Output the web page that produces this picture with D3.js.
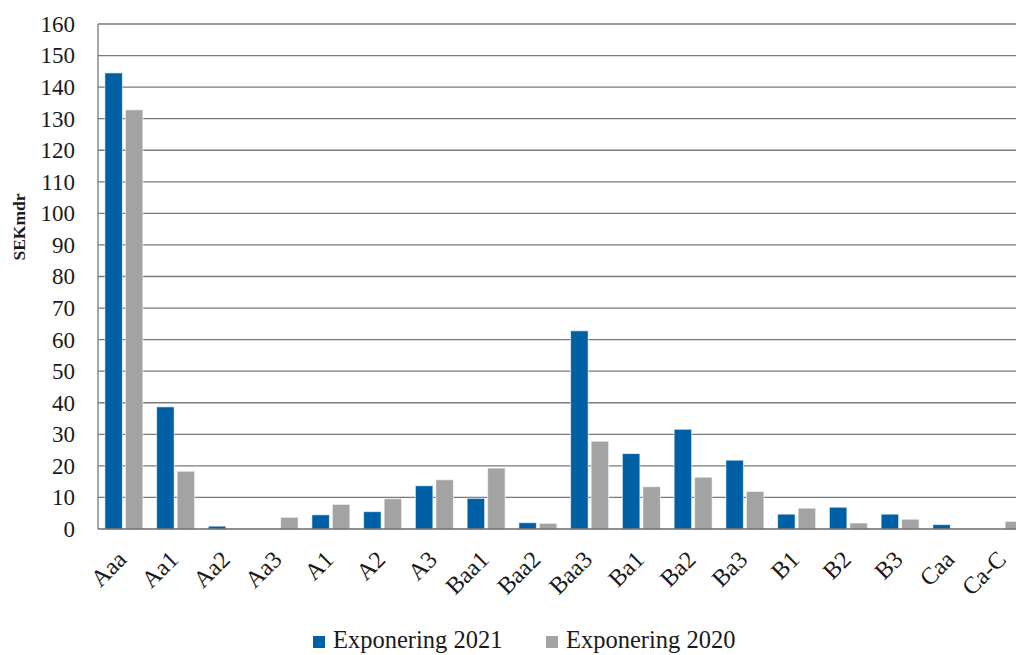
<!DOCTYPE html>
<html><head><meta charset="utf-8">
<script src="https://cdn.jsdelivr.net/npm/d3@7"></script>
<style>body{margin:0;background:#fff}svg{display:block}svg text{font-family:'Liberation Serif','DejaVu Serif',serif}</style>
</head><body>
<script>
const categories = ["Aaa","Aa1","Aa2","Aa3","A1","A2","A3","Baa1","Baa2","Baa3","Ba1","Ba2","Ba3","B1","B2","B3","Caa","Ca-C"];
const exp2021 = [144.5,38.7,0.9,0,4.5,5.5,13.7,9.7,2.0,62.8,23.9,31.6,21.8,4.7,6.9,4.7,1.4,0];
const exp2020 = [132.8,18.3,0,3.7,7.8,9.6,15.6,19.3,1.8,27.8,13.4,16.4,11.9,6.6,1.9,3.1,0,2.4];
const yTicks = [0,10,20,30,40,50,60,70,80,90,100,110,120,130,140,150,160];
const seriesNames = ["Exponering 2021","Exponering 2020"];
const colors = ["#0060A6","#A3A3A3"];

(function(){
const W = 1016, H = 655;
const pLeft = 98, pTop = 24, pBottom = 529, pRight = 98 + 18*51.75;
const svg = d3.select("body").append("svg").attr("width",W).attr("height",H);

const x = d3.scaleBand().domain(categories).range([pLeft,pRight]).paddingInner(0).paddingOuter(0);
const y = d3.scaleLinear().domain([0,160]).range([pBottom,pTop]);

// gridlines
svg.append("g").selectAll("line").data(yTicks.filter(d=>d>0)).join("line")
  .attr("x1",pLeft).attr("x2",pRight).attr("y1",d=>y(d)).attr("y2",d=>y(d))
  .attr("stroke","#7a7a7a").attr("stroke-width",1.3);

// bars
const bw = 17.5, gap = 3;
const inner = x.bandwidth();
const offs = (inner - (2*bw+gap))/2;
const series = [exp2021, exp2020];
series.forEach((vals,si)=>{
  svg.append("g").selectAll("rect").data(categories.map((c,i)=>({c,v:vals[i]})).filter(d=>d.v>0)).join("rect")
    .attr("x",d=>x(d.c)+offs+si*(bw+gap))
    .attr("width",bw)
    .attr("y",d=>y(d.v))
    .attr("height",d=>pBottom-y(d.v))
    .attr("fill",colors[si])
    .attr("stroke","#ffffff").attr("stroke-opacity",0.6).attr("stroke-width",1);
});

// axes lines
svg.append("line").attr("x1",pLeft).attr("x2",pLeft).attr("y1",pTop).attr("y2",pBottom)
  .attr("stroke","#7a7a7a").attr("stroke-width",1.3);
svg.append("line").attr("x1",pLeft).attr("x2",pRight).attr("y1",pBottom).attr("y2",pBottom)
  .attr("stroke","#6a6a6a").attr("stroke-width",1.5);

// y tick labels
const yAxis = d3.axisLeft(y).tickValues(yTicks).tickSize(0).tickPadding(23);
const gy = svg.append("g").attr("transform",`translate(${pLeft},0)`).call(yAxis);
gy.attr("font-family",null).attr("font-size",null);
gy.select(".domain").remove();
gy.selectAll("text").attr("font-size","23px").attr("fill","#1a1a1a");

// x labels
const gx = svg.append("g");
gx.selectAll("text").data(categories).join("text")
  .attr("transform",d=>`translate(${x(d)+inner/2+4},${561}) rotate(-45)`)
  .attr("text-anchor","end")
  .attr("font-size","24px").attr("fill","#1a1a1a")
  .text(d=>d);

// y title
svg.append("text").attr("transform","translate(25,227) rotate(-90)")
  .attr("text-anchor","middle").attr("font-size","17.5px").attr("font-weight","bold")
  .attr("fill","#1a1a1a").text("SEKmdr");

// legend
const legX = [313, 546];
seriesNames.forEach((n,i)=>{
  svg.append("rect").attr("x",legX[i]).attr("y",636).attr("width",12).attr("height",12).attr("fill",colors[i]);
  svg.append("text").attr("x",legX[i]+20).attr("y",648).attr("font-size","24.5px").attr("fill","#1a1a1a").text(n);
});
})();
</script>
</body></html>
